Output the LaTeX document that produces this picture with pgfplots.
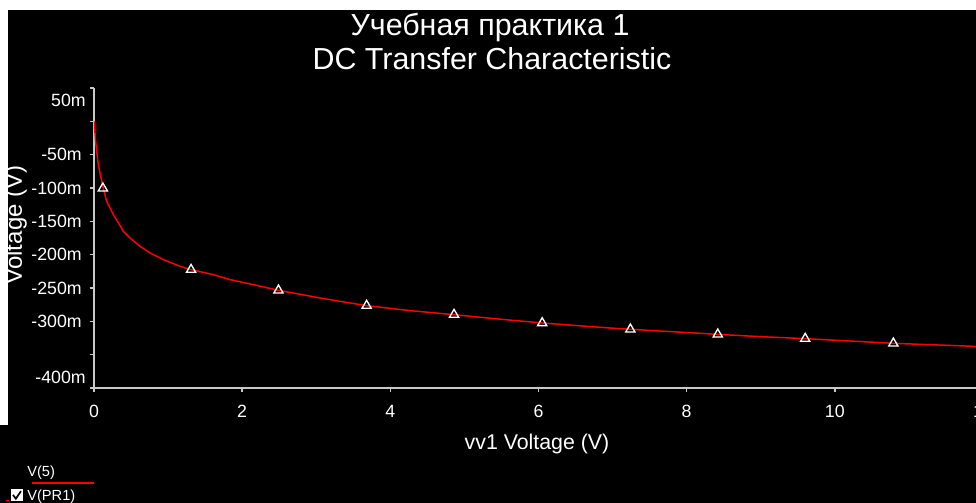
\documentclass[border=0pt]{standalone}
\usepackage{pgfplots}
\pgfplotsset{compat=1.18}
\usepackage{fontspec}
\setmainfont{Liberation Sans}
\definecolor{axgray}{RGB}{200,200,200}
\begin{document}
\begin{tikzpicture}
\fill[black] (-70.5pt,-86.25pt) rectangle (661.5pt,291pt);
\begin{axis}[
  at={(0pt,0pt)}, anchor=south west,
  scale only axis, width=666.75pt, height=225pt,
  xmin=0, xmax=12, ymin=-0.4, ymax=0.05,
  axis x line=bottom, axis y line=left,
  axis line style={-, draw=axgray, line width=1.1pt},
  xtick={0,2,4,6,8,10,12},
  xticklabels={0,2,4,6,8,10,12},
  ytick={-0.4,-0.35,-0.3,-0.25,-0.2,-0.15,-0.1,-0.05,0,0.05},
  yticklabels={,,-300m,-250m,-200m,-150m,-100m,-50m,,},
  extra y ticks={-0.384,0.0315},
  extra y tick labels={-400m,50m},
  extra y tick style={major tick length=0pt},
  tick align=outside, major tick length=3pt,
  tick style={draw=axgray, line width=1pt},
  /pgf/number format/assume math mode=true,
  every tick label/.append style={text=white, font=\fontsize{13.3}{13.3}\selectfont},
  yticklabel style={anchor=east, inner sep=0pt, xshift=-6pt},
  xticklabel style={anchor=north, inner sep=0pt, yshift=-9.5pt},
  scaled y ticks=false,
]
\addplot[red, line width=1.1pt, no marks] coordinates {
(0.0,0.000) (0.01,-0.012) (0.02,-0.028) (0.036,-0.045) (0.058,-0.065)
(0.081,-0.0775) (0.126,-0.101) (0.171,-0.120) (0.261,-0.140) (0.33,-0.1525)
(0.396,-0.165) (0.486,-0.175) (0.62,-0.1875) (0.756,-0.1975) (0.936,-0.2075)
(1.16,-0.2175) (1.31,-0.2225) (1.61,-0.230) (1.836,-0.2375) (2.15,-0.245)
(2.49,-0.2535) (3.1,-0.266) (3.68,-0.2765) (4.27,-0.284) (4.86,-0.290)
(5.45,-0.2965) (6.05,-0.3025) (6.83,-0.309) (7.24,-0.312) (7.8,-0.3155)
(8.41,-0.3195) (9.0,-0.323) (9.6,-0.326) (10.2,-0.3295) (10.79,-0.333)
(11.4,-0.3355) (12.0,-0.338)
};
\addplot[only marks, mark=triangle, mark size=4pt,
  mark options={draw=white, line width=1pt, fill=none}] coordinates {
(0.12,-0.1005) (1.31,-0.2225) (2.49,-0.2535) (3.68,-0.2765) (4.86,-0.290)
(6.05,-0.3025) (7.24,-0.312) (8.42,-0.3195) (9.6,-0.326) (10.79,-0.333)
};
\end{axis}
% titles
\node[text=white, anchor=base, font=\fontsize{22.8}{22.8}\selectfont] at (297pt,264.5pt) {Учебная практика 1};
\node[text=white, anchor=base, font=\fontsize{22.8}{22.8}\selectfont] at (298.5pt,239pt) {DC Transfer Characteristic};
% axis labels
\node[text=white, rotate=90, anchor=base, inner sep=0pt, font=\fontsize{18}{18}\selectfont] at (-54pt,122.25pt) {Voltage (V)};
\node[text=white, font=\fontsize{16}{16}\selectfont] at (332.25pt,-42pt) {vv1 Voltage (V)};
% white strips of the window
\fill[white] (-70.5pt,283.5pt) rectangle (661.5pt,291pt);
\fill[white] (-70.5pt,-27.75pt) rectangle (-64.5pt,291pt);
% legend
\node[text=white, anchor=base west, inner sep=0pt, font=\fontsize{11}{11}\selectfont] at (-50.25pt,-66.75pt) {V(5)};
\draw[red, line width=1.1pt] (-46.5pt,-71.25pt) -- (0pt,-71.25pt);
\fill[white] (-62pt,-84.75pt) rectangle (-53.5pt,-76pt);
\draw[black, line width=1.3pt] (-60.8pt,-80.2pt) -- (-58.6pt,-83pt) -- (-54.8pt,-77.4pt);
\node[text=white, anchor=base west, inner sep=0pt, font=\fontsize{11}{11}\selectfont] at (-50.25pt,-84.75pt) {V(PR1)};
\draw[red, line width=0.8pt] (-66pt,-84.5pt) -- (-64pt,-84.5pt);
\pgfresetboundingbox
\path[use as bounding box] (-70.5pt,-86.25pt) rectangle (661.5pt,291pt);
\end{tikzpicture}
\end{document}
